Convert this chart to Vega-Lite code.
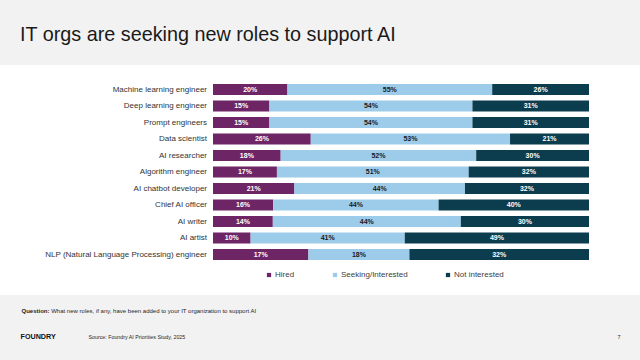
{
  "$schema": "https://vega.github.io/schema/vega-lite/v6.json",
  "width": 640,
  "height": 230,
  "autosize": {"type": "none"},
  "padding": {"top": 65, "bottom": 65, "left": 0, "right": 0},
  "background": "#f2f2f2",
  "config": {
    "view": {"fill": "white", "stroke": null},
    "font": "Liberation Sans",
    "axis": {"labels": false, "ticks": false, "domain": false, "grid": false, "titleFont": "Liberation Sans", "titleColor": "#262626", "titleFontWeight": "normal", "titleBaseline": "alphabetic", "titleAlign": "left", "titleAngle": 0}
  },
  "title": {"text": "IT orgs are seeking new roles to support AI", "anchor": "start", "frame": "group", "dx": 20, "offset": 20, "fontSize": 19.8, "fontWeight": "normal", "font": "Liberation Sans", "color": "#1a1a1a"},
  "data": {"values": [
    {"role": "Machine learning engineer", "category": "Hired", "rank": 1, "value": 0.20},
    {"role": "Machine learning engineer", "category": "Seeking/Interested", "rank": 2, "value": 0.55},
    {"role": "Machine learning engineer", "category": "Not interested", "rank": 3, "value": 0.26},
    {"role": "Deep learning engineer", "category": "Hired", "rank": 1, "value": 0.15},
    {"role": "Deep learning engineer", "category": "Seeking/Interested", "rank": 2, "value": 0.54},
    {"role": "Deep learning engineer", "category": "Not interested", "rank": 3, "value": 0.31},
    {"role": "Prompt engineers", "category": "Hired", "rank": 1, "value": 0.15},
    {"role": "Prompt engineers", "category": "Seeking/Interested", "rank": 2, "value": 0.54},
    {"role": "Prompt engineers", "category": "Not interested", "rank": 3, "value": 0.31},
    {"role": "Data scientist", "category": "Hired", "rank": 1, "value": 0.26},
    {"role": "Data scientist", "category": "Seeking/Interested", "rank": 2, "value": 0.53},
    {"role": "Data scientist", "category": "Not interested", "rank": 3, "value": 0.21},
    {"role": "AI researcher", "category": "Hired", "rank": 1, "value": 0.18},
    {"role": "AI researcher", "category": "Seeking/Interested", "rank": 2, "value": 0.52},
    {"role": "AI researcher", "category": "Not interested", "rank": 3, "value": 0.30},
    {"role": "Algorithm engineer", "category": "Hired", "rank": 1, "value": 0.17},
    {"role": "Algorithm engineer", "category": "Seeking/Interested", "rank": 2, "value": 0.51},
    {"role": "Algorithm engineer", "category": "Not interested", "rank": 3, "value": 0.32},
    {"role": "AI chatbot developer", "category": "Hired", "rank": 1, "value": 0.21},
    {"role": "AI chatbot developer", "category": "Seeking/Interested", "rank": 2, "value": 0.44},
    {"role": "AI chatbot developer", "category": "Not interested", "rank": 3, "value": 0.32},
    {"role": "Chief AI officer", "category": "Hired", "rank": 1, "value": 0.16},
    {"role": "Chief AI officer", "category": "Seeking/Interested", "rank": 2, "value": 0.44},
    {"role": "Chief AI officer", "category": "Not interested", "rank": 3, "value": 0.40},
    {"role": "AI writer", "category": "Hired", "rank": 1, "value": 0.14},
    {"role": "AI writer", "category": "Seeking/Interested", "rank": 2, "value": 0.44},
    {"role": "AI writer", "category": "Not interested", "rank": 3, "value": 0.30},
    {"role": "AI artist", "category": "Hired", "rank": 1, "value": 0.10},
    {"role": "AI artist", "category": "Seeking/Interested", "rank": 2, "value": 0.41},
    {"role": "AI artist", "category": "Not interested", "rank": 3, "value": 0.49},
    {"role": "NLP (Natural Language Processing) engineer", "category": "Hired", "rank": 1, "value": 0.17},
    {"role": "NLP (Natural Language Processing) engineer", "category": "Seeking/Interested", "rank": 2, "value": 0.18},
    {"role": "NLP (Natural Language Processing) engineer", "category": "Not interested", "rank": 3, "value": 0.32}
  ]},
  "transform": [
    {"stack": "value", "groupby": ["role"], "sort": [{"field": "rank", "order": "ascending"}], "offset": "normalize", "as": ["x0", "x1"]},
    {"calculate": "(datum.x0 + datum.x1) / 2", "as": "xmid"}
  ],
  "resolve": {"scale": {"x": "independent", "y": "independent"}, "axis": {"x": "independent", "y": "independent"}},
  "layer": [
    {
      "mark": {"type": "bar"},
      "encoding": {
        "x": {"field": "x0", "type": "quantitative", "scale": {"domain": [0, 1], "range": [213, 589], "nice": false, "zero": false},
              "axis": {"orient": "bottom", "title": "Question:", "titleX": 21, "titleY": 17, "titleFontSize": 6, "titleFontWeight": "bold"}},
        "x2": {"field": "x1"},
        "y": {"field": "role", "type": "nominal",
              "scale": {"domain": ["Machine learning engineer", "Deep learning engineer", "Prompt engineers", "Data scientist", "AI researcher", "Algorithm engineer", "AI chatbot developer", "Chief AI officer", "AI writer", "AI artist", "NLP (Natural Language Processing) engineer"], "range": [16.25, 197.75], "paddingInner": 0.3333, "paddingOuter": 0.1667},
              "axis": {"orient": "left", "title": "What new roles, if any, have been added to your IT organization to support AI", "titleX": 50.7, "titleY": 247, "titleFontSize": 6}},
        "color": {"field": "category", "type": "nominal",
                  "scale": {"domain": ["Hired", "Seeking/Interested", "Not interested"], "range": ["#6d2566", "#9dcbea", "#0b3d4e"]},
                  "legend": {"orient": "none", "legendX": 265, "legendY": 206, "direction": "horizontal", "title": null, "symbolType": "square", "symbolSize": 18, "symbolStrokeWidth": 0, "labelFontSize": 8, "labelColor": "#404040", "labelFont": "Liberation Sans", "labelOffset": 2, "columnPadding": 36, "padding": 0}}
      }
    },
    {
      "mark": {"type": "text", "fontSize": 7, "fontWeight": "bold", "font": "Liberation Sans", "align": "center", "baseline": "middle"},
      "encoding": {
        "x": {"field": "xmid", "type": "quantitative", "scale": {"domain": [0, 1], "range": [213, 589], "nice": false, "zero": false},
              "axis": {"orient": "top", "title": "Source: Foundry AI Priorities Study, 2025", "titleX": 88, "titleY": 273, "titleFontSize": 5.3}},
        "y": {"field": "role", "type": "nominal",
              "scale": {"domain": ["Machine learning engineer", "Deep learning engineer", "Prompt engineers", "Data scientist", "AI researcher", "Algorithm engineer", "AI chatbot developer", "Chief AI officer", "AI writer", "AI artist", "NLP (Natural Language Processing) engineer"], "range": [16.25, 197.75], "paddingInner": 0.3333, "paddingOuter": 0.1667},
              "axis": {"orient": "right", "title": "7", "titleX": -23, "titleY": 273, "titleFontSize": 5.5}},
        "text": {"field": "value", "type": "quantitative", "format": ".0%"},
        "color": {"condition": {"test": "datum.category === 'Seeking/Interested'", "value": "#1a1a1a"}, "value": "white"}
      }
    },
    {
      "transform": [{"filter": "datum.rank === 1"}],
      "mark": {"type": "text", "fontSize": 8, "font": "Liberation Sans", "align": "right", "baseline": "middle", "dx": -6, "color": "#333333"},
      "encoding": {
        "x": {"datum": 0, "type": "quantitative", "scale": {"domain": [0, 1], "range": [213, 589], "nice": false, "zero": false},
              "axis": {"orient": "bottom", "title": "FOUNDRY", "titleX": 20, "titleY": 43, "titleFontSize": 7.2, "titleFontWeight": "bold", "titleColor": "#111111"}},
        "y": {"field": "role", "type": "nominal",
              "scale": {"domain": ["Machine learning engineer", "Deep learning engineer", "Prompt engineers", "Data scientist", "AI researcher", "Algorithm engineer", "AI chatbot developer", "Chief AI officer", "AI writer", "AI artist", "NLP (Natural Language Processing) engineer"], "range": [16.25, 197.75], "paddingInner": 0.3333, "paddingOuter": 0.1667},
              "axis": null},
        "text": {"field": "role", "type": "nominal"}
      }
    }
  ]
}
